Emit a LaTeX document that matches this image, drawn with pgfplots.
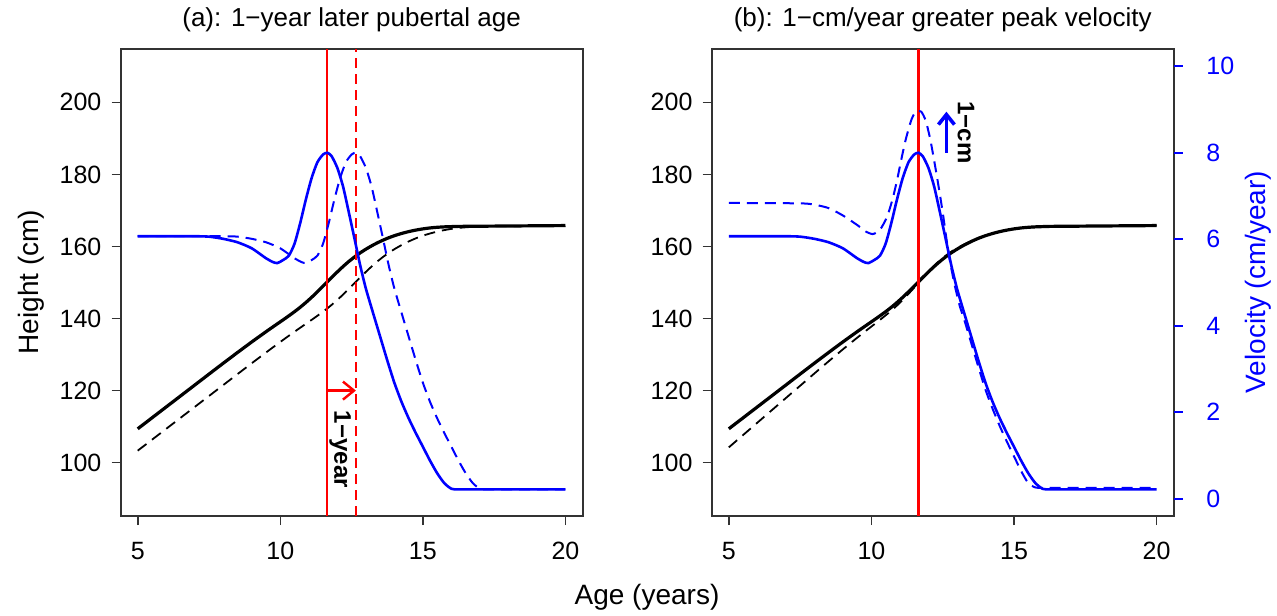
\documentclass[border=0pt]{standalone}
\usepackage{fontspec}
\setmainfont{Liberation Sans}
\usepackage{pgfplots}
\pgfplotsset{compat=1.18}
\usetikzlibrary{arrows.meta}
\definecolor{rblue}{RGB}{0,0,255}
\definecolor{rred}{RGB}{255,0,0}

% growth curves: age (years), height (cm), velocity (cm/year)
\pgfplotstableread{
t h
5 109.40
6 115.47
7 121.54
7.5 124.58
8 127.60
8.5 130.58
9 133.51
9.5 136.35
9.75 137.73
9.9 138.55
10.1 139.64
10.3 140.76
10.5 141.91
10.7 143.14
10.9 144.47
11.1 145.90
11.3 147.42
11.5 149.00
11.65 150.19
11.8 151.39
12 152.94
12.2 154.43
12.4 155.82
12.6 157.08
12.8 158.22
13 159.24
13.25 160.38
13.5 161.38
13.75 162.25
14 162.99
14.25 163.60
14.5 164.12
14.75 164.54
15 164.88
15.25 165.14
15.5 165.32
15.75 165.44
16 165.51
16.25 165.57
17 165.62
18 165.68
19 165.74
20 165.80
}\hsolid

\pgfplotstableread{
t h
5 103.33
6 109.40
7 115.47
8 121.54
8.5 124.58
9 127.60
9.5 130.58
10 133.51
10.5 136.35
10.75 137.73
10.9 138.55
11.1 139.64
11.3 140.76
11.5 141.91
11.7 143.14
11.9 144.47
12.1 145.90
12.3 147.42
12.5 149.00
12.65 150.19
12.8 151.39
13 152.94
13.2 154.43
13.4 155.82
13.6 157.08
13.8 158.22
14 159.24
14.25 160.38
14.5 161.38
14.75 162.25
15 162.99
15.25 163.60
15.5 164.12
15.75 164.54
16 164.88
16.25 165.14
16.5 165.32
16.75 165.44
17 165.51
17.25 165.57
18 165.62
19 165.68
20 165.74
}\hlate

\pgfplotstableread{
t h
5 104.25
6 111.09
7 117.93
7.5 121.34
8 124.75
8.5 128.13
9 131.45
9.5 134.67
9.8 136.55
10.05 138.09
10.3 139.63
10.55 141.22
10.75 142.57
10.9 143.64
11.05 144.78
11.2 145.99
11.4 147.70
11.55 149.03
11.65 149.93
11.75 150.83
11.9 152.16
12.07 153.61
12.3 155.42
12.5 156.80
12.7 158.00
12.9 159.05
13.25 160.55
13.75 162.35
14.25 163.68
14.75 164.58
15.25 165.12
15.75 165.38
16.25 165.47
17 165.60
18 165.68
19 165.74
20 165.80
}\hfast

\pgfplotstableread{
t v
5 6.07
6 6.07
7 6.07
7.5 6.06
8 6.01
8.5 5.93
9 5.79
9.5 5.56
9.75 5.47
9.9 5.45
10.1 5.52
10.3 5.62
10.5 5.90
10.7 6.38
10.9 6.93
11.1 7.42
11.3 7.78
11.5 7.96
11.65 8.00
11.8 7.92
12 7.65
12.2 7.22
12.4 6.63
12.6 6.02
12.8 5.40
13 4.86
13.25 4.30
13.5 3.75
13.75 3.20
14 2.68
14.25 2.24
14.5 1.86
14.75 1.52
15 1.20
15.25 0.88
15.5 0.59
15.75 0.36
16 0.23
16.25 0.215
17 0.215
20 0.215
}\vsolid

\pgfplotstableread{
t v
5 6.07
8 6.07
8.5 6.06
9 6.01
9.5 5.93
10 5.79
10.5 5.56
10.75 5.47
10.9 5.45
11.1 5.52
11.3 5.62
11.5 5.90
11.7 6.38
11.9 6.93
12.1 7.42
12.3 7.78
12.5 7.96
12.65 8.00
12.8 7.92
13 7.65
13.2 7.22
13.4 6.63
13.6 6.02
13.8 5.40
14 4.86
14.25 4.30
14.5 3.75
14.75 3.20
15 2.68
15.25 2.24
15.5 1.86
15.75 1.52
16 1.20
16.25 0.88
16.5 0.59
16.75 0.36
17 0.23
17.25 0.215
18 0.215
20 0.215
}\vlate

\pgfplotstableread{
t v
5 6.84
7.5 6.83
8 6.80
8.5 6.72
9 6.55
9.5 6.33
9.8 6.18
10.05 6.12
10.3 6.22
10.55 6.52
10.75 6.95
10.9 7.37
11.05 7.85
11.2 8.30
11.4 8.76
11.55 8.95
11.65 8.97
11.75 8.95
11.9 8.75
12.07 8.29
12.3 7.44
12.5 6.62
12.7 5.70
12.9 5.00
13.1 4.45
13.25 4.15
13.5 3.60
13.75 3.05
14 2.52
14.25 2.08
14.5 1.68
14.75 1.32
15 0.98
15.25 0.64
15.5 0.36
15.75 0.26
16 0.25
17 0.25
20 0.25
}\vfast

\pgfplotsset{
  panel/.style={
    scale only axis, width=231pt, height=233.5pt,
    xmin=4.4, xmax=20.6, ymin=85.2, ymax=214.8,
    xtick={5,10,15,20}, ytick={100,120,...,200},
    tick align=outside, tick pos=left,
    major tick length=4.5pt,
    tick style={black!80, line width=0.8pt},
    axis line style={black!80, line width=0.9pt},
    ticklabel style={font=\fontsize{12.5}{15}\selectfont},
    xticklabel style={yshift=-5pt},
    yticklabel style={xshift=-1.6pt},
    /pgf/number format/assume math mode=true,
    title style={font=\fontsize{13}{15}\selectfont, at={(0.5,1)}, anchor=base, yshift=5pt},
  },
  velo/.style={
    scale only axis, width=231pt, height=233.5pt,
    xmin=4.4, xmax=20.6, ymin=-0.4, ymax=10.4,
  },
  hcurve/.style={black, line width=1.6pt, smooth, tension=0.4},
  hdash/.style={black, line width=0.9pt, dash pattern=on 5.5pt off 3.5pt, smooth, tension=0.4},
  vcurve/.style={rblue, line width=1.3pt, smooth, tension=0.4},
  vdash/.style={rblue, line width=1.0pt, dash pattern=on 5.5pt off 3.5pt, smooth, tension=0.4},
}

\begin{document}
\begin{tikzpicture}
\path[use as bounding box] (0,0) rectangle (638.5pt,307.5pt);

% (a) left panel: heights
\begin{axis}[panel, at={(60.3pt,49.5pt)}, anchor=south west,
  title={(a): 1−year later pubertal age}]
\addplot[hcurve] table[x=t, y=h] {\hsolid};
\addplot[hdash] table[x=t, y=h] {\hlate};
\addplot[rred, line width=1.1pt] coordinates {(11.65,85.2) (11.65,214.8)};
\addplot[rred, line width=1.1pt, dash pattern=on 5pt off 3pt] coordinates {(12.65,85.2) (12.65,214.8)};
\addplot[rred, line width=1.2pt, -{Straight Barb[length=5.5pt, width=9pt]}] coordinates {(11.65,120) (12.65,120)};
\node[rotate=-90, font=\fontsize{12}{14}\selectfont\bfseries] at (axis cs:12.1,103.7) {1−year};
\end{axis}
% (a) velocities
\begin{axis}[velo, hide axis, at={(60.3pt,49.5pt)}, anchor=south west]
\addplot[vcurve] table[x=t, y=v] {\vsolid};
\addplot[vdash] table[x=t, y=v] {\vlate};
\end{axis}

% (b) right panel: heights
\begin{axis}[panel, at={(355.85pt,49.5pt)}, anchor=south west,
  title={(b): 1−cm/year greater peak velocity}]
\addplot[hcurve] table[x=t, y=h] {\hsolid};
\addplot[hdash] table[x=t, y=h] {\hfast};
\addplot[rred, line width=1.1pt] coordinates {(11.65,85.2) (11.65,214.8)};
\end{axis}
% (b) velocities with right axis
\begin{axis}[velo, at={(355.85pt,49.5pt)}, anchor=south west,
  axis x line=none, axis y line*=right,
  y axis line style={draw=none},
  ytick={0,2,...,10}, tick align=outside, major tick length=4.5pt,
  ytick style={rblue, line width=0.8pt},
  yticklabel style={rblue, font=\fontsize{12.5}{15}\selectfont, xshift=8.3pt},
  /pgf/number format/assume math mode=true]
\addplot[vcurve] table[x=t, y=v] {\vsolid};
\addplot[vdash] table[x=t, y=v] {\vfast};
\addplot[rblue, line width=1.8pt, -{Straight Barb[length=5pt, width=8pt]}] coordinates {(12.63,8.0) (12.63,8.95)};
\node[rotate=-90, font=\fontsize{12}{14}\selectfont\bfseries] at (axis cs:13.32,8.47) {1−cm};
\end{axis}

\node[rotate=90, font=\fontsize{14}{16}\selectfont] at (15.5pt,166.5pt) {Height (cm)};
\node[rotate=90, rblue, font=\fontsize{14}{16}\selectfont] at (629pt,166.5pt) {Velocity (cm/year)};
\node[font=\fontsize{14}{16}\selectfont] at (323.5pt,9pt) {Age (years)};
\end{tikzpicture}
\end{document}
